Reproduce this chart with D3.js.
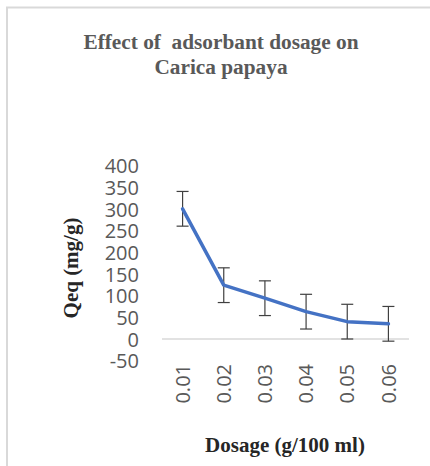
<!DOCTYPE html>
<html>
<head>
<meta charset="utf-8">
<script src="https://cdn.jsdelivr.net/npm/d3@7"></script>
<style>
  html, body { margin: 0; padding: 0; background: #fff; }
  svg { display: block; }
</style>
</head>
<body>
<div id="chart"></div>
<script>
// Adsorbent dosage vs. equilibrium uptake (Carica papaya)
const dosages = ["0.01", "0.02", "0.03", "0.04", "0.05", "0.06"];
const qeq = [300, 124, 94, 63, 40, 35];
const errors = [40, 40, 40, 40, 40, 40];
const yTicks = [-50, 0, 50, 100, 150, 200, 250, 300, 350, 400];

const W = 430, H = 466;
const svg = d3.select("#chart").append("svg")
  .attr("width", W).attr("height", H);

// chart frame
svg.append("path")
  .attr("d", `M7,${H} V7.5 H${W}`)
  .attr("fill", "none")
  .attr("stroke", "#d9d9d9")
  .attr("stroke-width", 2);

const plot = { left: 162, right: 409, top: 165.4, bottom: 360.7 };

const x = d3.scaleBand().domain(dosages).range([plot.left, plot.right]);
const y = d3.scaleLinear().domain([-50, 400]).range([plot.bottom, plot.top]);

const tickFont = "'Open Sans', 'Noto Sans', sans-serif";
const tickColor = "#595959";

// y axis labels (no line, no ticks)
const yAxis = svg.append("g")
  .attr("transform", `translate(${139},0)`)
  .call(d3.axisLeft(y).tickValues(yTicks).tickFormat(d => String(d))
    .tickSize(0).tickPadding(0));
yAxis.select(".domain").remove();
yAxis.selectAll("text")
  .attr("fill", tickColor)
  .style("font-family", tickFont)
  .style("font-size", "20px")
  .attr("dy", "0.36em");

// horizontal axis line at zero
svg.append("line")
  .attr("x1", plot.left).attr("x2", plot.right)
  .attr("y1", y(0)).attr("y2", y(0))
  .attr("stroke", "#d9d9d9").attr("stroke-width", 1.5);

// category labels, rotated, below the plot area
const xAxis = svg.append("g")
  .attr("transform", `translate(0,${364})`)
  .call(d3.axisBottom(x).tickSize(0).tickPadding(0));
xAxis.select(".domain").remove();
xAxis.selectAll("text")
  .attr("fill", tickColor)
  .style("font-family", tickFont)
  .style("font-size", "20px")
  .attr("transform", "rotate(-90)")
  .attr("text-anchor", "end")
  .attr("x", 0)
  .attr("y", 0)
  .attr("dy", "0.36em");

const cx = d => x(d) + x.bandwidth() / 2;
const pts = dosages.map((d, i) => ({ d, v: qeq[i], e: errors[i] }));

// error bars
const eb = svg.append("g").attr("stroke", "#404040").attr("stroke-width", 1.2);
pts.forEach(p => {
  const xc = cx(p.d);
  eb.append("line").attr("x1", xc).attr("x2", xc)
    .attr("y1", y(p.v + p.e)).attr("y2", y(p.v - p.e));
  [p.v + p.e, p.v - p.e].forEach(v => {
    eb.append("line").attr("x1", xc - 6).attr("x2", xc + 6)
      .attr("y1", y(v)).attr("y2", y(v));
  });
});

// data line
svg.append("path")
  .datum(pts)
  .attr("fill", "none")
  .attr("stroke", "#4472c4")
  .attr("stroke-width", 3.5)
  .attr("stroke-linejoin", "round")
  .attr("stroke-linecap", "round")
  .attr("d", d3.line().x(p => cx(p.d)).y(p => y(p.v)));

const titleFont = "'Liberation Serif', 'Times New Roman', serif";
const titleColor = "#595959";

// chart title
const title = svg.append("text")
  .attr("text-anchor", "middle")
  .attr("fill", titleColor)
  .style("font-family", titleFont)
  .style("font-weight", "bold")
  .style("font-size", "21.3px")
  .style("white-space", "pre");
title.append("tspan").attr("x", 221).attr("y", 49).text("Effect of  adsorbant dosage on");
title.append("tspan").attr("x", 221).attr("y", 74).text("Carica papaya");

// axis titles
svg.append("text")
  .attr("transform", `translate(78,${268}) rotate(-90)`)
  .attr("text-anchor", "middle")
  .attr("fill", "#262626")
  .style("font-family", titleFont)
  .style("font-weight", "bold")
  .style("font-size", "21px")
  .text("Qeq (mg/g)");

svg.append("text")
  .attr("x", 285).attr("y", 452)
  .attr("text-anchor", "middle")
  .attr("fill", "#262626")
  .style("font-family", titleFont)
  .style("font-weight", "bold")
  .style("font-size", "21px")
  .text("Dosage (g/100 ml)");
</script>
</body>
</html>
